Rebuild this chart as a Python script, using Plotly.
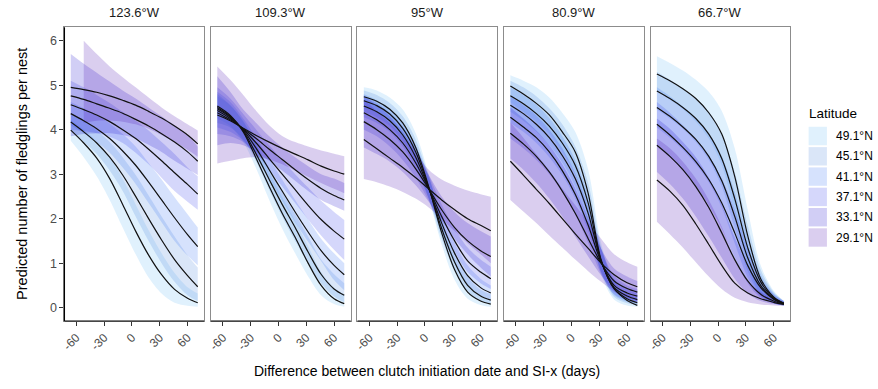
import plotly.graph_objects as go

W, H = 878, 389

# ---------------- data ----------------
X = [-66, -52, -38, -24, -10, 4, 18, 32, 46, 60, 71]
longitudes = ["123.6°W", "109.3°W", "95°W", "80.9°W", "66.7°W"]
latitudes = ["49.1°N", "45.1°N", "41.1°N", "37.1°N", "33.1°N", "29.1°N"]
x_ticks = [-60, -30, 0, 30, 60]
x_tick_labels = ["-60", "-30", "0", "30", "60"]
y_ticks = [0, 1, 2, 3, 4, 5, 6]
band_rgb = [(100, 185, 245), (70, 130, 220), (50, 110, 245),
            (45, 55, 235), (25, 10, 205), (70, 10, 175)]
band_alpha = 0.2

# each list: order of latitudes (49.1 ... 29.1)
fit_p1 = [
    [3.99, 3.70, 3.36, 2.90, 2.32, 1.72, 1.18, 0.74, 0.41, 0.21, 0.11],
    [4.17, 3.95, 3.70, 3.38, 2.98, 2.50, 2.00, 1.52, 1.08, 0.72, 0.47],
    [4.36, 4.20, 4.02, 3.80, 3.52, 3.20, 2.82, 2.42, 2.02, 1.64, 1.37],
    [4.56, 4.45, 4.33, 4.18, 4.00, 3.80, 3.56, 3.30, 3.03, 2.77, 2.55],
    [4.76, 4.68, 4.58, 4.48, 4.37, 4.23, 4.08, 3.91, 3.72, 3.50, 3.29],
    [4.95, 4.90, 4.84, 4.76, 4.66, 4.55, 4.41, 4.26, 4.08, 3.88, 3.68]]
lo_p1 = [
    [3.75, 3.38, 2.95, 2.42, 1.80, 1.20, 0.68, 0.32, 0.11, 0.04, 0.02],
    [3.98, 3.72, 3.45, 3.08, 2.62, 2.05, 1.50, 1.00, 0.58, 0.28, 0.15],
    [4.10, 3.92, 3.72, 3.48, 3.15, 2.78, 2.35, 1.92, 1.50, 1.17, 0.95],
    [4.00, 3.97, 3.92, 3.84, 3.70, 3.48, 3.22, 2.92, 2.62, 2.38, 2.20],
    [3.85, 3.90, 3.92, 3.92, 3.88, 3.80, 3.66, 3.50, 3.30, 3.12, 2.98],
    [None, 4.15, 4.20, 4.20, 4.18, 4.12, 4.02, 3.88, 3.72, 3.55, 3.39]]
hi_p1 = [
    [4.22, 4.00, 3.74, 3.38, 2.90, 2.32, 1.74, 1.22, 0.78, 0.46, 0.32],
    [4.38, 4.20, 3.98, 3.72, 3.38, 2.98, 2.52, 2.05, 1.60, 1.18, 0.90],
    [4.62, 4.48, 4.33, 4.14, 3.90, 3.62, 3.25, 2.88, 2.48, 2.10, 1.80],
    [5.10, 4.95, 4.78, 4.60, 4.40, 4.20, 3.98, 3.72, 3.45, 3.15, 2.95],
    [5.70, 5.48, 5.28, 5.08, 4.88, 4.70, 4.50, 4.30, 4.10, 3.88, 3.62],
    [None, 6.00, 5.70, 5.42, 5.18, 4.95, 4.72, 4.50, 4.30, 4.12, 3.98]]

fit_p2 = [
    [4.53, 4.32, 3.95, 3.35, 2.72, 2.12, 1.58, 1.00, 0.50, 0.20, 0.09],
    [4.50, 4.30, 3.97, 3.45, 2.88, 2.32, 1.80, 1.25, 0.75, 0.42, 0.28],
    [4.47, 4.28, 3.99, 3.58, 3.10, 2.62, 2.15, 1.70, 1.28, 0.95, 0.74],
    [4.43, 4.25, 4.01, 3.70, 3.35, 3.00, 2.65, 2.30, 1.98, 1.72, 1.54],
    [4.38, 4.22, 4.02, 3.80, 3.56, 3.33, 3.10, 2.88, 2.68, 2.52, 2.42],
    [4.33, 4.20, 4.03, 3.87, 3.72, 3.58, 3.45, 3.32, 3.18, 3.07, 3.00]]
lo_p2 = [
    [4.25, 4.08, 3.72, 3.12, 2.42, 1.78, 1.22, 0.70, 0.28, 0.08, 0.02],
    [4.15, 4.05, 3.78, 3.28, 2.65, 2.05, 1.50, 1.00, 0.55, 0.25, 0.12],
    [4.05, 3.95, 3.75, 3.38, 2.90, 2.40, 1.92, 1.48, 1.05, 0.62, 0.39],
    [3.90, 3.85, 3.72, 3.45, 3.10, 2.72, 2.35, 1.98, 1.62, 1.30, 1.07],
    [3.65, 3.70, 3.65, 3.50, 3.30, 3.08, 2.85, 2.62, 2.42, 2.28, 2.18],
    [3.24, 3.30, 3.36, 3.38, 3.33, 3.22, 3.08, 2.94, 2.80, 2.67, 2.57]]
hi_p2 = [
    [4.75, 4.55, 4.20, 3.65, 3.05, 2.48, 1.95, 1.38, 0.80, 0.45, 0.30],
    [4.80, 4.55, 4.18, 3.68, 3.12, 2.60, 2.10, 1.60, 1.08, 0.75, 0.55],
    [4.85, 4.62, 4.25, 3.82, 3.35, 2.88, 2.42, 1.98, 1.55, 1.22, 1.00],
    [4.95, 4.70, 4.35, 4.00, 3.65, 3.32, 3.00, 2.70, 2.40, 2.15, 1.97],
    [5.20, 4.85, 4.45, 4.15, 3.85, 3.60, 3.38, 3.18, 3.00, 2.90, 2.80],
    [5.42, 5.12, 4.78, 4.42, 4.10, 3.86, 3.72, 3.62, 3.53, 3.46, 3.40]]

fit_p3 = [
    [4.74, 4.64, 4.46, 4.15, 3.60, 2.72, 1.68, 0.85, 0.35, 0.15, 0.08],
    [4.65, 4.54, 4.35, 4.03, 3.50, 2.70, 1.78, 1.02, 0.50, 0.26, 0.17],
    [4.53, 4.40, 4.20, 3.88, 3.38, 2.68, 1.90, 1.22, 0.72, 0.45, 0.33],
    [4.38, 4.22, 4.00, 3.70, 3.25, 2.68, 2.05, 1.50, 1.05, 0.80, 0.65],
    [4.18, 4.00, 3.78, 3.50, 3.12, 2.67, 2.20, 1.80, 1.50, 1.28, 1.15],
    [3.78, 3.57, 3.36, 3.15, 2.92, 2.67, 2.42, 2.20, 2.00, 1.85, 1.73]]
lo_p3 = [
    [4.50, 4.38, 4.18, 3.85, 3.30, 2.45, 1.42, 0.62, 0.20, 0.06, 0.02],
    [4.40, 4.28, 4.08, 3.75, 3.22, 2.45, 1.55, 0.82, 0.35, 0.15, 0.08],
    [4.28, 4.15, 3.95, 3.62, 3.12, 2.45, 1.68, 1.02, 0.52, 0.28, 0.18],
    [4.00, 3.85, 3.62, 3.32, 2.92, 2.40, 1.80, 1.25, 0.80, 0.55, 0.42],
    [3.60, 3.45, 3.28, 3.05, 2.75, 2.38, 1.95, 1.55, 1.20, 0.90, 0.70],
    [2.89, 2.82, 2.72, 2.60, 2.45, 2.25, 2.00, 1.72, 1.45, 1.20, 1.00]]
hi_p3 = [
    [4.95, 4.88, 4.72, 4.45, 3.92, 3.00, 1.95, 1.10, 0.55, 0.28, 0.18],
    [4.88, 4.78, 4.60, 4.30, 3.78, 2.95, 2.00, 1.25, 0.70, 0.40, 0.30],
    [4.80, 4.66, 4.46, 4.14, 3.65, 2.92, 2.12, 1.45, 0.95, 0.65, 0.50],
    [4.78, 4.60, 4.38, 4.07, 3.60, 2.98, 2.32, 1.78, 1.35, 1.08, 0.92],
    [4.75, 4.55, 4.30, 3.95, 3.50, 2.98, 2.50, 2.15, 1.90, 1.72, 1.60],
    [4.68, 4.42, 4.15, 3.85, 3.50, 3.10, 2.88, 2.74, 2.63, 2.55, 2.49]]

fit_p4 = [
    [4.98, 4.80, 4.59, 4.33, 3.95, 3.50, 2.57, 1.07, 0.43, 0.16, 0.05],
    [4.76, 4.58, 4.36, 4.08, 3.70, 3.20, 2.35, 1.05, 0.42, 0.20, 0.11],
    [4.55, 4.36, 4.12, 3.82, 3.42, 2.90, 2.12, 1.04, 0.45, 0.26, 0.18],
    [4.28, 4.06, 3.82, 3.50, 3.08, 2.55, 1.85, 1.02, 0.50, 0.33, 0.26],
    [3.92, 3.68, 3.40, 3.05, 2.62, 2.12, 1.55, 1.00, 0.60, 0.43, 0.35],
    [3.29, 2.98, 2.66, 2.34, 2.00, 1.66, 1.33, 1.00, 0.74, 0.56, 0.47]]
lo_p4 = [
    [4.62, 4.40, 4.18, 3.90, 3.50, 3.00, 2.05, 0.75, 0.18, 0.05, 0.02],
    [4.40, 4.20, 3.96, 3.66, 3.26, 2.72, 1.90, 0.80, 0.24, 0.10, 0.05],
    [4.15, 3.95, 3.70, 3.38, 2.98, 2.45, 1.72, 0.80, 0.28, 0.13, 0.08],
    [3.80, 3.58, 3.32, 3.00, 2.60, 2.10, 1.45, 0.75, 0.30, 0.16, 0.10],
    [3.35, 3.10, 2.80, 2.45, 2.05, 1.60, 1.15, 0.72, 0.38, 0.22, 0.15],
    [2.42, 2.16, 1.90, 1.62, 1.35, 1.08, 0.82, 0.58, 0.36, 0.20, 0.12]]
hi_p4 = [
    [5.22, 5.10, 4.95, 4.72, 4.38, 3.95, 3.10, 1.45, 0.55, 0.25, 0.15],
    [5.10, 4.95, 4.75, 4.48, 4.12, 3.62, 2.80, 1.35, 0.60, 0.32, 0.22],
    [4.95, 4.78, 4.56, 4.26, 3.86, 3.32, 2.52, 1.32, 0.65, 0.42, 0.32],
    [4.75, 4.55, 4.32, 4.00, 3.58, 3.02, 2.28, 1.32, 0.72, 0.50, 0.42],
    [4.50, 4.25, 3.98, 3.65, 3.22, 2.68, 2.02, 1.32, 0.88, 0.70, 0.60],
    [4.16, 3.82, 3.45, 3.08, 2.68, 2.30, 1.92, 1.55, 1.20, 1.02, 0.92]]

fit_p5 = [
    [5.25, 5.10, 4.92, 4.70, 4.38, 3.90, 2.95, 1.62, 0.65, 0.24, 0.10],
    [4.87, 4.70, 4.50, 4.25, 3.90, 3.35, 2.45, 1.35, 0.58, 0.22, 0.10],
    [4.50, 4.30, 4.06, 3.78, 3.40, 2.85, 2.05, 1.12, 0.50, 0.20, 0.09],
    [4.12, 3.88, 3.60, 3.28, 2.88, 2.35, 1.68, 0.95, 0.45, 0.19, 0.09],
    [3.65, 3.40, 3.10, 2.72, 2.25, 1.68, 1.08, 0.60, 0.30, 0.15, 0.08],
    [2.87, 2.62, 2.30, 1.88, 1.42, 0.95, 0.55, 0.33, 0.20, 0.12, 0.07]]
lo_p5 = [
    [4.85, 4.68, 4.46, 4.18, 3.80, 3.20, 2.15, 0.98, 0.30, 0.10, 0.05],
    [4.45, 4.25, 4.02, 3.72, 3.32, 2.72, 1.78, 0.82, 0.28, 0.10, 0.05],
    [4.05, 3.82, 3.55, 3.22, 2.82, 2.25, 1.45, 0.68, 0.25, 0.10, 0.05],
    [3.62, 3.38, 3.08, 2.72, 2.30, 1.78, 1.12, 0.55, 0.22, 0.10, 0.05],
    [3.05, 2.78, 2.45, 2.05, 1.60, 1.12, 0.65, 0.32, 0.15, 0.08, 0.05],
    [1.93, 1.65, 1.35, 1.02, 0.70, 0.42, 0.22, 0.12, 0.07, 0.05, 0.04]]
hi_p5 = [
    [5.65, 5.50, 5.33, 5.12, 4.85, 4.42, 3.58, 2.20, 0.95, 0.38, 0.15],
    [5.30, 5.12, 4.92, 4.70, 4.40, 3.90, 3.05, 1.85, 0.85, 0.35, 0.15],
    [4.95, 4.75, 4.52, 4.26, 3.92, 3.40, 2.60, 1.58, 0.75, 0.32, 0.15],
    [4.62, 4.38, 4.10, 3.80, 3.42, 2.90, 2.20, 1.35, 0.65, 0.30, 0.15],
    [4.25, 4.02, 3.72, 3.38, 2.92, 2.32, 1.58, 0.95, 0.50, 0.25, 0.14],
    [3.80, 3.58, 3.28, 2.90, 2.42, 1.82, 1.10, 0.60, 0.35, 0.20, 0.12]]

fits = [fit_p1, fit_p2, fit_p3, fit_p4, fit_p5]
los = [lo_p1, lo_p2, lo_p3, lo_p4, lo_p5]
his = [hi_p1, hi_p2, hi_p3, hi_p4, hi_p5]

# ---------------- layout geometry (pixels) ----------------
FONT = "Liberation Sans, Arial, Helvetica, sans-serif"
panel_left0, panel_w, panel_gap = 60.7, 140.3, 6.9
plot_top, plot_bottom = 27.3, 321.0


def fx(px):
    return px / W


def fy(py):
    return 1 - py / H


def rgba(k):
    r, g, b = band_rgb[k]
    return f"rgba({r},{g},{b},{band_alpha})"


fig = go.Figure()

for p in range(5):
    xa = "x" if p == 0 else f"x{p + 1}"
    ya = "y" if p == 0 else f"y{p + 1}"
    # ribbons
    for k in range(len(latitudes)):
        pts = [(x, lo, hi) for x, lo, hi in zip(X, los[p][k], his[p][k]) if lo is not None]
        xs = [q[0] for q in pts]
        fig.add_trace(go.Scatter(x=xs, y=[q[1] for q in pts], mode="lines",
                                 line=dict(width=0, shape="spline", smoothing=0.9),
                                 xaxis=xa, yaxis=ya, showlegend=False, hoverinfo="skip"))
        fig.add_trace(go.Scatter(x=xs, y=[q[2] for q in pts], mode="lines",
                                 line=dict(width=0, shape="spline", smoothing=0.9),
                                 fill="tonexty", fillcolor=rgba(k),
                                 xaxis=xa, yaxis=ya, showlegend=False,
                                 name=latitudes[k], hoverinfo="skip"))
    # fitted lines
    for k in range(len(latitudes)):
        fig.add_trace(go.Scatter(x=X, y=fits[p][k], mode="lines",
                                 line=dict(color="#111111", width=1.2, shape="spline", smoothing=0.9),
                                 xaxis=xa, yaxis=ya, showlegend=False, name=latitudes[k]))

layout = dict(
    width=W, height=H, margin=dict(l=0, r=0, t=0, b=0),
    paper_bgcolor="white", plot_bgcolor="white",
    font=dict(family=FONT, color="black"),
    showlegend=False,
)
shapes = []
annotations = []
for p in range(5):
    left = panel_left0 + p * (panel_w + panel_gap)
    right = left + panel_w
    xkey = "xaxis" if p == 0 else f"xaxis{p + 1}"
    ykey = "yaxis" if p == 0 else f"yaxis{p + 1}"
    xa = "x" if p == 0 else f"x{p + 1}"
    ya = "y" if p == 0 else f"y{p + 1}"
    layout[xkey] = dict(
        domain=[fx(left), fx(right)], anchor=ya, range=[-72.85, 77.85],
        tickmode="array", tickvals=x_ticks, ticktext=x_tick_labels, tickangle=-45,
        ticks="outside", ticklen=4, tickwidth=1, tickcolor="#333333",
        tickfont=dict(size=12, color="#4d4d4d", family=FONT),
        showgrid=False, zeroline=False, showline=True, linecolor="#8c8c8c",
        linewidth=1, mirror=True, fixedrange=True,
    )
    layout[ykey] = dict(
        domain=[fy(plot_bottom), fy(plot_top)], anchor=xa, range=[-0.3, 6.3],
        tickmode="array", tickvals=y_ticks,
        showticklabels=(p == 0), ticks="outside" if p == 0 else "",
        ticklen=4, tickwidth=1, tickcolor="#333333",
        tickfont=dict(size=12.5, color="#4d4d4d", family=FONT),
        showgrid=False, zeroline=False, showline=True, linecolor="#8c8c8c",
        linewidth=1, mirror=True, fixedrange=True,
    )
    # black bottom axis line
    shapes.append(dict(type="line", xref=f"{xa} domain", yref=f"{ya} domain",
                       x0=0, x1=1, y0=0, y1=0, line=dict(color="black", width=1.2)))
    if p == 0:
        shapes.append(dict(type="line", xref=f"{xa} domain", yref=f"{ya} domain",
                           x0=0, x1=0, y0=0, y1=1, line=dict(color="black", width=1.2)))
    # strip title
    annotations.append(dict(text=longitudes[p], x=fx((left + right) / 2), y=fy(13),
                            xref="paper", yref="paper", showarrow=False,
                            font=dict(size=13, color="#1a1a1a", family=FONT),
                            xanchor="center", yanchor="middle"))

# axis titles
annotations.append(dict(text="Difference between clutch initiation date and SI-x (days)",
                        x=fx(425), y=fy(371), xref="paper", yref="paper", showarrow=False,
                        font=dict(size=14, color="black", family=FONT),
                        xanchor="center", yanchor="middle"))
annotations.append(dict(text="Predicted number of fledglings per nest",
                        x=fx(18), y=fy(174), xref="paper", yref="paper", showarrow=False,
                        textangle=-90, font=dict(size=14.5, color="black", family=FONT),
                        xanchor="center", yanchor="middle"))

# legend
annotations.append(dict(text="Latitude", x=fx(807), y=fy(113), xref="paper", yref="paper",
                        showarrow=False, font=dict(size=13.5, color="black", family=FONT),
                        xanchor="left", yanchor="middle"))
for k, lab in enumerate(latitudes):
    cy = 136 + 20.3 * k
    shapes.append(dict(type="rect", xref="paper", yref="paper",
                       x0=fx(808.3), x1=fx(826.7), y0=fy(cy + 9.2), y1=fy(cy - 9.2),
                       fillcolor=rgba(k), line=dict(width=0)))
    annotations.append(dict(text=lab, x=fx(834), y=fy(cy), xref="paper", yref="paper",
                            showarrow=False, font=dict(size=12, color="black", family=FONT),
                            xanchor="left", yanchor="middle"))

layout["shapes"] = shapes
layout["annotations"] = annotations
fig.update_layout(**layout)

fig.write_html("out.html", config={"displayModeBar": False},
               post_script="document.body.style.margin='0px';document.body.style.overflow='hidden';")
